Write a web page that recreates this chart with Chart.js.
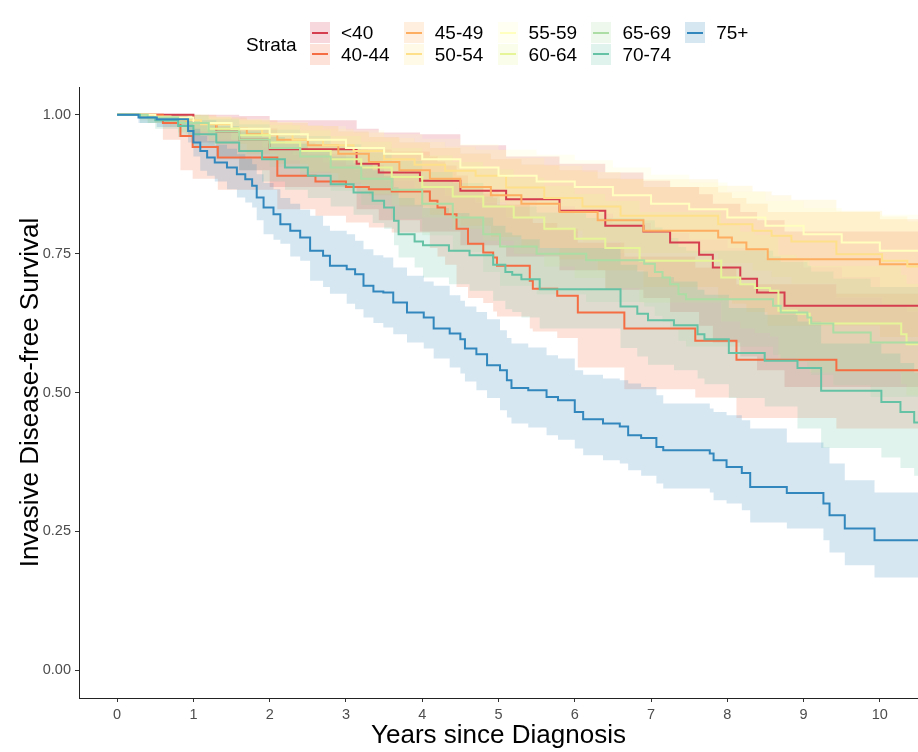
<!DOCTYPE html>
<html><head><meta charset="utf-8">
<script src="https://cdn.jsdelivr.net/npm/chart.js@4.4.1/dist/chart.umd.min.js"></script>
<style>
html,body{margin:0;padding:0;background:#fff;}
#wrap{position:relative;width:918px;height:752px;overflow:hidden;font-family:'Liberation Sans',Arial,sans-serif;}
#c{position:absolute;left:0;top:0;}
.lg-title,.lg-text{position:absolute;font-size:19px;color:#000;line-height:1;white-space:nowrap;}
.lg-key{position:absolute;width:20px;height:21px;}
.lg-key i{position:absolute;left:2px;right:2px;top:9.5px;height:2px;}
</style></head>
<body><div id="wrap"><canvas id="c" width="918" height="752"></canvas><div id="legend"></div></div>
<script>
const strata = ['<40','40-44','45-49','50-54','55-59','60-64','65-69','70-74','75+'];
const lineColors = ['#D53E4F','#F46D43','#FDAE61','#FEE08B','#FFFFBF','#E6F598','#ABDDA4','#66C2A5','#3288BD'];
const xTicks = [0,1,2,3,4,5,6,7,8,9,10];
const yTicks = [0,0.25,0.5,0.75,1];

// <40
const timeA = [0,1.0,1.3,1.6,2.0,3.14,3.43,3.97,4.5,5.1,5.8,6.4,6.9,7.25,7.63,7.81,8.17,8.39,8.75,10.5];
const survA = [1,0.985,0.97,0.955,0.938,0.912,0.896,0.881,0.863,0.848,0.827,0.80,0.79,0.77,0.748,0.725,0.705,0.68,0.656,0.656];
const upA   = [1,1,1,0.998,0.99,0.975,0.968,0.965,0.945,0.925,0.912,0.896,0.881,0.87,0.857,0.84,0.825,0.81,0.79,0.79];
const loA   = [1,0.95,0.925,0.9,0.87,0.83,0.81,0.79,0.765,0.745,0.72,0.685,0.67,0.645,0.62,0.59,0.565,0.54,0.51,0.51];
// 40-44
const timeB = [0,0.6,0.83,0.99,1.32,2.1,2.6,3.0,3.3,3.6,4.1,4.2,4.3,4.45,4.6,4.8,4.93,4.98,5.41,5.45,5.77,6.04,6.65,7.58,8.12,9.43,10.5];
const survB = [1,0.985,0.962,0.942,0.923,0.89,0.88,0.87,0.866,0.862,0.845,0.833,0.821,0.795,0.768,0.752,0.743,0.728,0.701,0.687,0.674,0.644,0.615,0.593,0.559,0.54,0.54];
const upB   = [1,1,0.995,0.985,0.975,0.95,0.945,0.94,0.937,0.934,0.925,0.916,0.908,0.89,0.87,0.858,0.85,0.838,0.815,0.805,0.795,0.77,0.745,0.725,0.695,0.678,0.678];
const loB   = [1,0.955,0.90,0.885,0.865,0.83,0.818,0.806,0.797,0.788,0.76,0.745,0.73,0.69,0.67,0.661,0.646,0.637,0.615,0.61,0.598,0.545,0.506,0.491,0.454,0.435,0.435];
// 45-49
const timeC = [0,0.5,0.9,1.3,1.7,2.1,2.5,2.9,3.3,3.7,4.1,4.5,4.9,5.3,5.8,6.3,6.9,7.88,8.06,8.25,8.53,10.0,10.5];
const survC = [1,0.995,0.985,0.975,0.965,0.955,0.945,0.93,0.915,0.9,0.885,0.87,0.855,0.84,0.825,0.81,0.791,0.779,0.770,0.758,0.740,0.731,0.731];
const upC   = [1,1,1,0.995,0.99,0.985,0.98,0.97,0.96,0.95,0.94,0.93,0.92,0.91,0.9,0.885,0.87,0.86,0.85,0.84,0.825,0.812,0.812];
const loC   = [1,0.985,0.965,0.948,0.93,0.912,0.895,0.875,0.855,0.835,0.82,0.80,0.78,0.76,0.74,0.72,0.69,0.67,0.66,0.645,0.62,0.60,0.60];
// 50-54
const timeD = [0,0.3,0.7,1.1,1.5,1.9,2.3,2.7,3.1,3.5,3.9,4.3,4.7,5.1,5.6,6.1,6.6,7.88,8.33,8.58,8.84,9.43,10.03,10.36,10.5];
const survD = [1,0.997,0.99,0.983,0.975,0.965,0.955,0.945,0.935,0.92,0.91,0.899,0.89,0.869,0.85,0.835,0.818,0.803,0.791,0.782,0.772,0.749,0.737,0.727,0.727];
const upD   = [1,1,1,0.997,0.992,0.987,0.981,0.975,0.968,0.958,0.951,0.943,0.937,0.922,0.908,0.897,0.884,0.872,0.862,0.855,0.847,0.827,0.817,0.808,0.808];
const loD   = [1,0.99,0.978,0.967,0.955,0.941,0.928,0.914,0.901,0.881,0.868,0.854,0.842,0.815,0.791,0.772,0.751,0.733,0.719,0.708,0.696,0.671,0.657,0.646,0.646];
// 55-59
const timeE = [0,0.5,1.0,1.5,2.0,2.5,3.0,3.5,4.0,4.5,5.0,5.5,6.0,6.5,7.0,7.5,8.0,8.5,9.0,9.5,10.0,10.5];
const survE = [1,0.995,0.985,0.975,0.965,0.955,0.94,0.93,0.92,0.905,0.89,0.88,0.87,0.855,0.84,0.83,0.815,0.80,0.785,0.77,0.755,0.755];
const upE   = [1,1,0.998,0.993,0.987,0.98,0.972,0.965,0.957,0.947,0.937,0.928,0.918,0.905,0.892,0.878,0.862,0.845,0.832,0.825,0.82,0.818];
const loE   = [1,0.985,0.97,0.955,0.942,0.93,0.91,0.898,0.885,0.866,0.848,0.835,0.822,0.805,0.787,0.775,0.76,0.742,0.725,0.708,0.69,0.69];
// 60-64
const timeF = [0,0.4,0.8,1.2,1.6,2.0,2.4,2.8,3.2,3.6,4.0,4.4,4.8,5.2,5.6,6.0,6.4,6.85,7.92,8.17,8.36,8.56,8.67,8.91,9.08,10.28,10.35,10.5];
const survF = [1,0.995,0.985,0.975,0.963,0.95,0.935,0.92,0.905,0.888,0.87,0.853,0.835,0.815,0.795,0.777,0.76,0.737,0.707,0.695,0.688,0.683,0.647,0.642,0.624,0.605,0.587,0.587];
const upF   = [1,1,1,0.995,0.99,0.982,0.972,0.962,0.952,0.94,0.927,0.915,0.902,0.887,0.872,0.858,0.845,0.825,0.8,0.79,0.784,0.78,0.748,0.743,0.728,0.712,0.696,0.696];
const loF   = [1,0.985,0.97,0.955,0.937,0.918,0.898,0.878,0.858,0.837,0.815,0.795,0.773,0.75,0.727,0.706,0.688,0.662,0.628,0.615,0.607,0.601,0.562,0.556,0.536,0.515,0.495,0.495];
// 65-69
const timeG = [0,0.4,0.8,1.2,1.6,2.0,2.4,2.8,3.2,3.6,4.0,4.4,4.8,5.02,5.5,6.15,6.91,7.05,7.15,7.25,7.36,7.46,8.6,8.7,9.05,9.1,9.39,9.88,10.5];
const survG = [1,0.995,0.985,0.97,0.955,0.94,0.925,0.905,0.885,0.865,0.84,0.815,0.785,0.763,0.75,0.738,0.732,0.717,0.707,0.695,0.677,0.668,0.656,0.644,0.635,0.624,0.608,0.590,0.590];
const upG   = [1,1,1,0.992,0.983,0.973,0.962,0.947,0.932,0.917,0.897,0.877,0.853,0.835,0.824,0.814,0.81,0.797,0.788,0.778,0.762,0.755,0.745,0.735,0.728,0.718,0.705,0.69,0.69];
const loG   = [1,0.985,0.968,0.948,0.927,0.907,0.888,0.863,0.838,0.813,0.783,0.753,0.717,0.692,0.677,0.663,0.655,0.638,0.627,0.613,0.593,0.583,0.568,0.555,0.544,0.532,0.513,0.492,0.492];
// 70-74
const timeH = [0,0.3,0.5,0.8,1.0,1.3,1.6,1.9,2.2,2.5,2.8,3.1,3.35,3.5,3.63,3.69,3.90,4.01,4.35,4.62,4.93,5.09,5.18,5.30,5.54,6.60,6.82,6.96,7.30,7.61,7.70,8.02,8.49,8.92,9.23,10.02,10.27,10.45,10.5];
const survH = [1,0.995,0.99,0.98,0.965,0.95,0.935,0.92,0.905,0.89,0.875,0.86,0.845,0.833,0.809,0.785,0.772,0.765,0.755,0.747,0.730,0.717,0.712,0.704,0.686,0.655,0.642,0.630,0.621,0.605,0.596,0.571,0.557,0.544,0.503,0.483,0.465,0.446,0.446];
const upH   = [1,1,1,0.997,0.99,0.98,0.97,0.96,0.948,0.936,0.925,0.913,0.9,0.89,0.87,0.85,0.838,0.832,0.823,0.815,0.80,0.788,0.783,0.776,0.76,0.73,0.718,0.708,0.70,0.685,0.676,0.652,0.64,0.628,0.588,0.57,0.553,0.536,0.536];
const loH   = [1,0.985,0.975,0.96,0.94,0.92,0.90,0.88,0.865,0.85,0.835,0.82,0.805,0.795,0.765,0.743,0.725,0.707,0.695,0.683,0.665,0.65,0.645,0.635,0.615,0.58,0.565,0.55,0.54,0.525,0.515,0.49,0.475,0.435,0.40,0.383,0.364,0.35,0.35];
// 75+
const timeI = [0,0.28,0.52,0.93,1.0,1.09,1.18,1.28,1.44,1.57,1.68,1.77,1.83,1.92,2.05,2.14,2.27,2.40,2.53,2.70,2.79,3.01,3.12,3.23,3.36,3.49,3.62,3.80,4.02,4.15,4.36,4.50,4.56,4.71,4.85,5.02,5.11,5.17,5.39,5.63,5.78,6.00,6.11,6.37,6.59,6.70,6.87,7.07,7.16,7.77,7.82,7.99,8.19,8.30,8.78,9.26,9.34,9.54,9.93,10.5];
const survI = [1,0.995,0.992,0.971,0.95,0.935,0.923,0.914,0.905,0.893,0.884,0.872,0.851,0.833,0.821,0.803,0.791,0.779,0.755,0.746,0.728,0.722,0.713,0.692,0.682,0.68,0.662,0.644,0.635,0.615,0.606,0.596,0.579,0.569,0.549,0.54,0.522,0.508,0.504,0.492,0.486,0.465,0.452,0.444,0.439,0.423,0.418,0.402,0.396,0.39,0.378,0.366,0.355,0.33,0.319,0.30,0.279,0.255,0.234,0.234];
const upI   = [1,1,1,0.99,0.975,0.962,0.953,0.946,0.939,0.929,0.921,0.911,0.893,0.877,0.866,0.85,0.84,0.829,0.818,0.80,0.791,0.785,0.773,0.758,0.747,0.743,0.725,0.71,0.70,0.692,0.675,0.665,0.655,0.645,0.632,0.612,0.598,0.588,0.581,0.567,0.561,0.54,0.532,0.525,0.522,0.516,0.51,0.495,0.48,0.471,0.465,0.459,0.45,0.435,0.41,0.401,0.372,0.342,0.32,0.32];
const loI   = [1,0.985,0.978,0.95,0.925,0.899,0.89,0.88,0.866,0.851,0.842,0.833,0.81,0.785,0.775,0.768,0.745,0.737,0.701,0.69,0.678,0.66,0.65,0.635,0.625,0.617,0.605,0.59,0.579,0.561,0.545,0.534,0.52,0.504,0.49,0.468,0.455,0.444,0.437,0.423,0.415,0.399,0.387,0.378,0.372,0.36,0.35,0.336,0.327,0.32,0.306,0.30,0.288,0.266,0.255,0.234,0.212,0.189,0.167,0.167];

const series = [
  {t: timeA, s: survA, hi: upA, lo: loA},
  {t: timeB, s: survB, hi: upB, lo: loB},
  {t: timeC, s: survC, hi: upC, lo: loC},
  {t: timeD, s: survD, hi: upD, lo: loD},
  {t: timeE, s: survE, hi: upE, lo: loE},
  {t: timeF, s: survF, hi: upF, lo: loF},
  {t: timeG, s: survG, hi: upG, lo: loG},
  {t: timeH, s: survH, hi: upH, lo: loH},
  {t: timeI, s: survI, hi: upI, lo: loI}
];

function alpha(hex, a) {
  const n = parseInt(hex.slice(1), 16);
  return `rgba(${(n >> 16) & 255},${(n >> 8) & 255},${n & 255},${a})`;
}
const pts = (t, v) => t.map((x, i) => ({x: x, y: v[i]}));

const datasets = [];
// lines: first dataset is drawn last (on top), so 75+ first
for (let i = strata.length - 1; i >= 0; i--) {
  datasets.push({
    label: strata[i], data: pts(series[i].t, series[i].s),
    borderColor: lineColors[i], borderWidth: 2, stepped: true,
    pointRadius: 0, fill: false, order: 0
  });
}
// confidence bands
for (let i = strata.length - 1; i >= 0; i--) {
  datasets.push({
    label: strata[i] + ' upper', data: pts(series[i].t, series[i].hi),
    borderWidth: 0, borderColor: 'rgba(0,0,0,0)', stepped: true, pointRadius: 0,
    backgroundColor: alpha(lineColors[i], 0.2), fill: '+1', order: 1
  });
  datasets.push({
    label: strata[i] + ' lower', data: pts(series[i].t, series[i].lo),
    borderWidth: 0, borderColor: 'rgba(0,0,0,0)', stepped: true, pointRadius: 0,
    fill: false, order: 1
  });
}

const FONT = "'Liberation Sans', Arial, sans-serif";
new Chart(document.getElementById('c'), {
  type: 'line',
  data: {datasets: datasets},
  options: {
    responsive: false, animation: false, devicePixelRatio: 1,
    layout: {padding: {top: 87, left: 0, right: 0, bottom: 0}},
    plugins: {legend: {display: false}, tooltip: {enabled: false}, filler: {drawTime: 'beforeDatasetsDraw'}},
    scales: {
      x: {
        type: 'linear', min: -0.5, max: 10.5,
        afterBuildTicks: s => { s.ticks = xTicks.map(v => ({value: v})); },
        afterFit: s => { s.height = 54; },
        grid: {drawOnChartArea: false, drawTicks: true, tickLength: 4, tickColor: '#333', color: '#333'},
        border: {display: true, color: '#222', width: 1},
        ticks: {color: '#4d4d4d', font: {family: FONT, size: 14.5}, padding: 4, maxRotation: 0,
                callback: v => String(v)},
        title: {display: true, text: 'Years since Diagnosis', color: '#000',
                font: {family: FONT, size: 26}, padding: {top: 0, bottom: 1}}
      },
      y: {
        type: 'linear', min: -0.05, max: 1.05,
        afterBuildTicks: s => { s.ticks = yTicks.map(v => ({value: v})); },
        afterFit: s => { s.width = 79; },
        grid: {drawOnChartArea: false, drawTicks: true, tickLength: 4, tickColor: '#333', color: '#333'},
        border: {display: true, color: '#222', width: 1},
        ticks: {color: '#4d4d4d', font: {family: FONT, size: 14.5}, padding: 4,
                callback: v => Number(v).toFixed(2)},
        title: {display: true, text: 'Invasive Disease-free Survival', color: '#000',
                font: {family: FONT, size: 26}, padding: {top: 15, bottom: 0}}
      }
    }
  }
});

// legend (ggplot-style, column-major)
const lg = document.getElementById('legend');
const title = document.createElement('div');
title.className = 'lg-title'; title.textContent = 'Strata';
title.style.left = '246px'; title.style.top = '35px';
lg.appendChild(title);
strata.forEach((name, i) => {
  const col = Math.floor(i / 2), row = i % 2;
  const kx = 310 + col * 93.8, ky = 22 + row * 21.5;
  const key = document.createElement('div');
  key.className = 'lg-key';
  key.style.left = kx + 'px'; key.style.top = ky + 'px';
  key.style.background = alpha(lineColors[i], 0.2);
  const ln = document.createElement('i'); ln.style.background = lineColors[i];
  key.appendChild(ln); lg.appendChild(key);
  const tx = document.createElement('div');
  tx.className = 'lg-text'; tx.textContent = name;
  tx.style.left = (kx + 31) + 'px'; tx.style.top = (ky + 10.5 - 9.3) + 'px';
  lg.appendChild(tx);
});
</script>
</body></html>
